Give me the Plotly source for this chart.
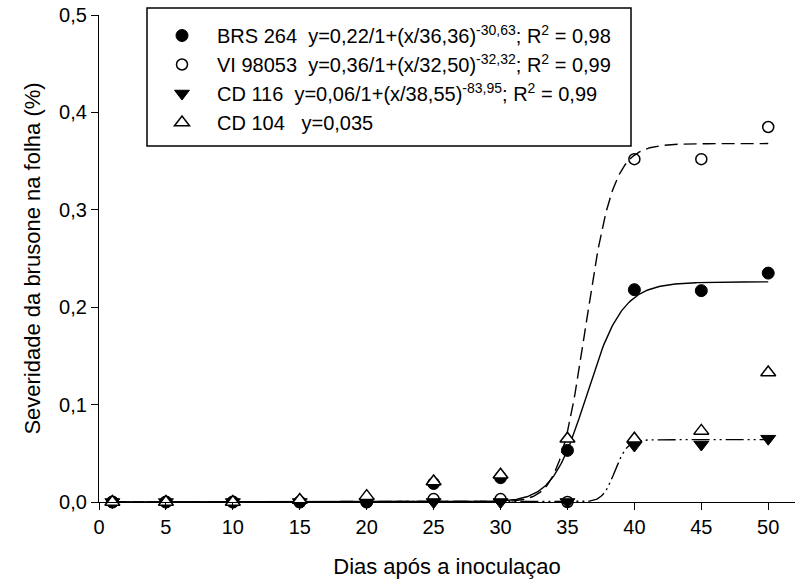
import numpy as np
import plotly.graph_objects as go

# ---- data ----
days = [1, 5, 10, 15, 20, 25, 30, 35, 40, 45, 50]
brs264 = [0, 0, 0, 0, 0, 0.019, 0.025, 0.053, 0.218, 0.217, 0.235]
vi98053 = [0, 0, 0, 0, 0, 0.003, 0.003, 0, 0.352, 0.352, 0.385]
cd116 = [0, 0, 0, 0, 0, 0, 0, 0, 0.058, 0.059, 0.065]
cd104 = [0, 0, 0, 0.002, 0.006, 0.021, 0.028, 0.065, 0.065, 0.073, 0.133]

# fitted logistic curves y = a / (1 + (x/c)^b), parameters
fit_brs = dict(a=0.226, c=36.5, b=-28.0)
fit_vi = dict(a=0.368, c=36.4, b=-36.0)
fit_cd116 = dict(a=0.064, c=38.55, b=-84.0)

names = [
    "BRS 264\u00a0\u00a0y=0,22/1+(x/36,36)<sup>-30,63</sup>; R<sup>2</sup> = 0,98",
    "VI 98053\u00a0\u00a0y=0,36/1+(x/32,50)<sup>-32,32</sup>; R<sup>2</sup> = 0,99",
    "CD 116\u00a0\u00a0y=0,06/1+(x/38,55)<sup>-83,95</sup>; R<sup>2</sup> = 0,99",
    "CD 104\u00a0\u00a0\u00a0y=0,035",
]

xt = [0, 5, 10, 15, 20, 25, 30, 35, 40, 45, 50]

FONT = "Liberation Sans, Arial, sans-serif"

# plot-area geometry in pixels (for paper-coordinate conversion of the legend box)
L, R, T, B = 99, 5, 15, 84
PW, PH = 800 - L - R, 586 - T - B

def px_to_paper_x(px):
    return (px - L) / PW

def px_to_paper_y(py):
    return (586 - B - py) / PH

def logistic(p, x):
    return p["a"] / (1.0 + (x / p["c"]) ** p["b"])

xs = np.linspace(1, 50, 500)

fig = go.Figure()

# fitted curves
fig.add_trace(go.Scatter(x=xs, y=logistic(fit_brs, xs), mode="lines",
                         line=dict(color="black", width=1.4), showlegend=False,
                         hoverinfo="skip"))
fig.add_trace(go.Scatter(x=xs, y=logistic(fit_vi, xs), mode="lines",
                         line=dict(color="black", width=1.4, dash="13px,6px"),
                         showlegend=False, hoverinfo="skip"))
fig.add_trace(go.Scatter(x=xs, y=logistic(fit_cd116, xs), mode="lines",
                         line=dict(color="black", width=1.4,
                                   dash="18px,4px,2px,4px,2px,4px"),
                         showlegend=False, hoverinfo="skip"))

# points
fig.add_trace(go.Scatter(x=days, y=brs264, mode="markers", name=names[0],
                         marker=dict(symbol="circle", size=12, color="black",
                                     line=dict(color="black", width=1)),
                         cliponaxis=False))
fig.add_trace(go.Scatter(x=days, y=vi98053, mode="markers", name=names[1],
                         marker=dict(symbol="circle-open", size=11, color="black",
                                     line=dict(color="black", width=1.5)),
                         cliponaxis=False))
fig.add_trace(go.Scatter(x=days, y=cd116, mode="markers", name=names[2],
                         marker=dict(symbol="triangle-down", size=13, color="black",
                                     line=dict(color="black", width=1)),
                         cliponaxis=False))
fig.add_trace(go.Scatter(x=days, y=cd104, mode="markers", name=names[3],
                         marker=dict(symbol="triangle-up", size=13, color="white",
                                     line=dict(color="black", width=1.5)),
                         cliponaxis=False))

fig.update_layout(
    width=800, height=586,
    margin=dict(l=L, r=R, t=T, b=B),
    paper_bgcolor="white", plot_bgcolor="white",
    separators=",.",
    font=dict(family=FONT, size=20, color="black"),
    showlegend=True,
    legend=dict(
        x=px_to_paper_x(147), xanchor="left",
        y=px_to_paper_y(16), yanchor="top",
        bgcolor="rgba(0,0,0,0)", borderwidth=0,
        font=dict(family=FONT, size=20, color="black"),
        itemwidth=60, traceorder="normal",
    ),
    shapes=[dict(
        type="rect", xref="paper", yref="paper",
        x0=px_to_paper_x(147), x1=px_to_paper_x(631),
        y0=px_to_paper_y(146), y1=px_to_paper_y(8),
        line=dict(color="black", width=1.5), fillcolor="white", layer="below",
    )],
    xaxis=dict(
        range=[0, 52.0], tickvals=xt, ticktext=[str(v) for v in xt],
        showline=True, linecolor="black", linewidth=1.2,
        ticks="outside", ticklen=7, tickwidth=1.2, tickcolor="black",
        showgrid=False, zeroline=False, tickfont=dict(size=20),
        title=dict(text="Dias após a inoculaçao", font=dict(size=22), standoff=21),
    ),
    yaxis=dict(
        range=[0, 0.5], dtick=0.1, tick0=0, tickformat=".1f",
        showline=True, linecolor="black", linewidth=1.2,
        ticks="outside", ticklen=7, tickwidth=1.2, tickcolor="black",
        showgrid=False, zeroline=False, tickfont=dict(size=20),
        title=dict(text="Severidade da brusone na folha (%)", font=dict(size=22), standoff=12),
    ),
)

fig.write_html("out.html")
